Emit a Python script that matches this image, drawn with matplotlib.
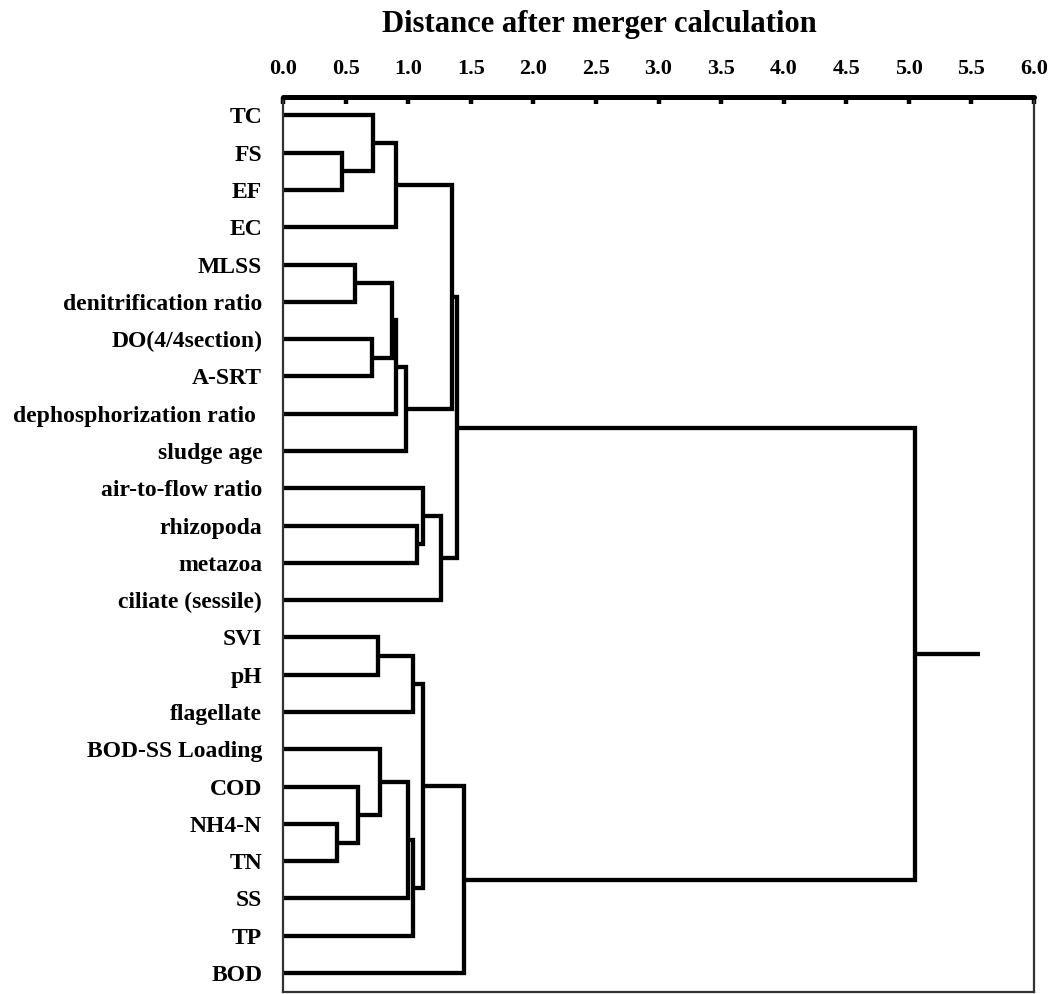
import numpy as np
import matplotlib
matplotlib.use('Agg')
from matplotlib import pyplot as plt

plt.rcParams['font.family'] = ['Liberation Serif', 'DejaVu Serif']
plt.rcParams['font.weight'] = 'bold'

# leaves listed top to bottom
labels = ['TC', 'FS', 'EF', 'EC', 'MLSS', 'denitrification ratio',
          'DO(4/4section)', 'A-SRT', 'dephosphorization ratio ', 'sludge age',
          'air-to-flow ratio', 'rhizopoda', 'metazoa', 'ciliate (sessile)',
          'SVI', 'pH', 'flagellate', 'BOD-SS Loading', 'COD', 'NH4-N', 'TN',
          'SS', 'TP', 'BOD']

# merge steps: (cluster a, cluster b, distance); new cluster id = 24 + step
merges = [(19, 20, 0.43),    # 24
          (1, 2, 0.47),      # 25
          (4, 5, 0.575),     # 26
          (18, 24, 0.60),    # 27
          (6, 7, 0.71),      # 28
          (0, 25, 0.716),    # 29
          (14, 15, 0.76),    # 30
          (17, 27, 0.775),   # 31
          (26, 28, 0.868),   # 32
          (29, 3, 0.903),    # 33
          (32, 8, 0.905),    # 34
          (34, 9, 0.982),    # 35
          (31, 21, 1.002),   # 36
          (36, 22, 1.036),   # 37
          (30, 16, 1.038),   # 38
          (11, 12, 1.067),   # 39
          (38, 37, 1.116),   # 40
          (10, 39, 1.12),    # 41
          (41, 13, 1.26),    # 42
          (33, 35, 1.347),   # 43
          (43, 42, 1.387),   # 44
          (40, 23, 1.446),   # 45
          (44, 45, 5.048)]   # 46
root_end = 5.567

xticks = np.arange(0, 6.01, 0.5)

fig = plt.figure(figsize=(10.51, 9.94), dpi=100)
ax = fig.add_axes([283/1051, 1 - 991.7/994, (1034 - 283)/1051, (991.7 - 96.7)/994])

n = len(labels)
ypos = {i: i + 0.5 for i in range(n)}
xpos = {i: 0.0 for i in range(n)}

for k, (a, b, h) in enumerate(merges):
    node = n + k
    ax.plot([xpos[a], h, h, xpos[b]], [ypos[a], ypos[a], ypos[b], ypos[b]],
            color='black', lw=3.1, solid_joinstyle='miter', solid_capstyle='butt')
    ypos[node] = (ypos[a] + ypos[b]) / 2
    xpos[node] = h

# stub from the last merge
top = n + len(merges) - 1
ax.plot([xpos[top], root_end], [ypos[top], ypos[top]], color='black', lw=3.1,
        solid_capstyle='butt')

ax.set_xlim(0, 6)
ax.set_ylim(n, 0)
ax.xaxis.tick_top()
ax.set_xticks(xticks)
ax.set_xticklabels(['%.1f' % t for t in xticks], fontsize=16, fontweight='bold')
ax.tick_params(axis='x', direction='in', length=5, width=3.2, pad=13, top=True, bottom=False)
ax.set_yticks(np.arange(n) + 0.5)
ax.set_yticklabels(labels, fontsize=17, fontweight='bold')
ax.tick_params(axis='y', length=0, pad=15)

ax.spines['top'].set_linewidth(3.6)
ax.spines['top'].set_capstyle('round')
for side in ['left', 'right', 'bottom']:
    ax.spines[side].set_linewidth(1.6)
    ax.spines[side].set_color('#333333')

fig.text(599/1051, 1 - 31.7/994, 'Distance after merger calculation',
         ha='center', va='baseline', fontsize=22, fontweight='bold')

plt.savefig('out.png', dpi=100)
